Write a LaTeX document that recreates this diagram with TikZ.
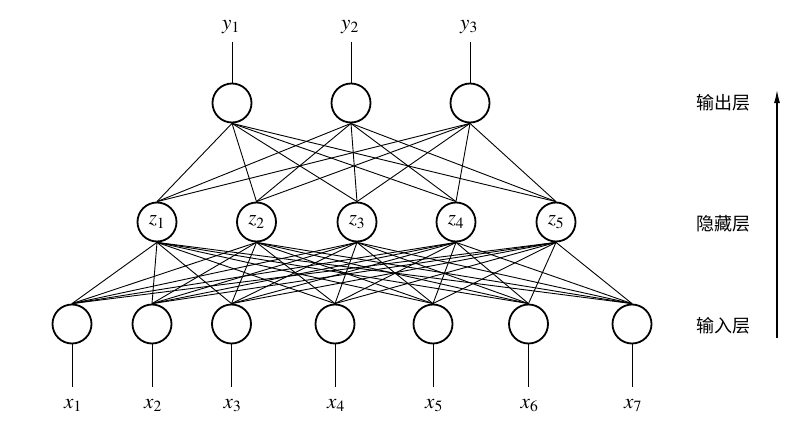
\documentclass[tikz,border=0pt]{standalone}
\usepackage{mathptmx}
\usepackage{fontspec}
\newfontfamily\cjk{Noto Sans CJK SC}
\usetikzlibrary{arrows.meta}

\begin{document}
\begin{tikzpicture}[x=1pt, y=-1pt,
  neuron/.style={circle, draw=black, line width=1.8pt, minimum size=39pt, inner sep=0pt, font=\fontsize{21}{25}\selectfont},
  link/.style={line width=0.9pt},
  varlabel/.style={anchor=base, inner sep=0pt, font=\fontsize{21}{25}\selectfont},
  layername/.style={font=\cjk\fontsize{18}{22}\selectfont}]
\useasboundingbox (0,0) rectangle (798,423);

% output layer
\node[neuron] (o1) at (232,103) {};
\node[neuron] (o2) at (351,103) {};
\node[neuron] (o3) at (470,103) {};

% hidden layer
\node[neuron] (h1) at (157,222) {$z_1$};
\node[neuron] (h2) at (256.5,222) {$z_2$};
\node[neuron] (h3) at (357,222) {$z_3$};
\node[neuron] (h4) at (456,222) {$z_4$};
\node[neuron] (h5) at (556,222) {$z_5$};

% input layer
\node[neuron] (i1) at (72,324) {};
\node[neuron] (i2) at (152,324) {};
\node[neuron] (i3) at (231.5,324) {};
\node[neuron] (i4) at (335,324) {};
\node[neuron] (i5) at (433,324) {};
\node[neuron] (i6) at (528.5,324) {};
\node[neuron] (i7) at (632,324) {};

% weights
\foreach \i in {1,...,7}
  \foreach \j in {1,...,5}
    \draw[link] (i\i.north) -- (h\j.south);
\foreach \j in {1,...,5}
  \foreach \k in {1,2,3}
    \draw[link] (h\j.north) -- (o\k.south);

% outputs y
\foreach \k/\px in {1/232,2/351,3/470} {
  \coordinate (yt\k) at (\px,42);
  \draw[link] (o\k.north) -- (yt\k);
  \node[varlabel] (yl\k) at (\px-1,29) {$y_\k$};
}

% inputs x
\foreach \i/\px in {1/72,2/152,3/231.5,4/335,5/433,6/528.5,7/632} {
  \coordinate (xb\i) at (\px,387);
  \draw[link] (i\i.south) -- (xb\i);
  \node[varlabel] (xl\i) at (\px+1,408) {$x_\i$};
}

% layer names
\node[layername] (lo) at (723,103) {输出层};
\node[layername] (lh) at (723,224) {隐藏层};
\node[layername] (li) at (723,326) {输入层};

\coordinate (ab) at (777,338);
\coordinate (at) at (777,90);
\draw[-{Latex[length=13pt,width=6pt]}, line width=1.2pt] (ab) -- (at);
\end{tikzpicture}
\end{document}
